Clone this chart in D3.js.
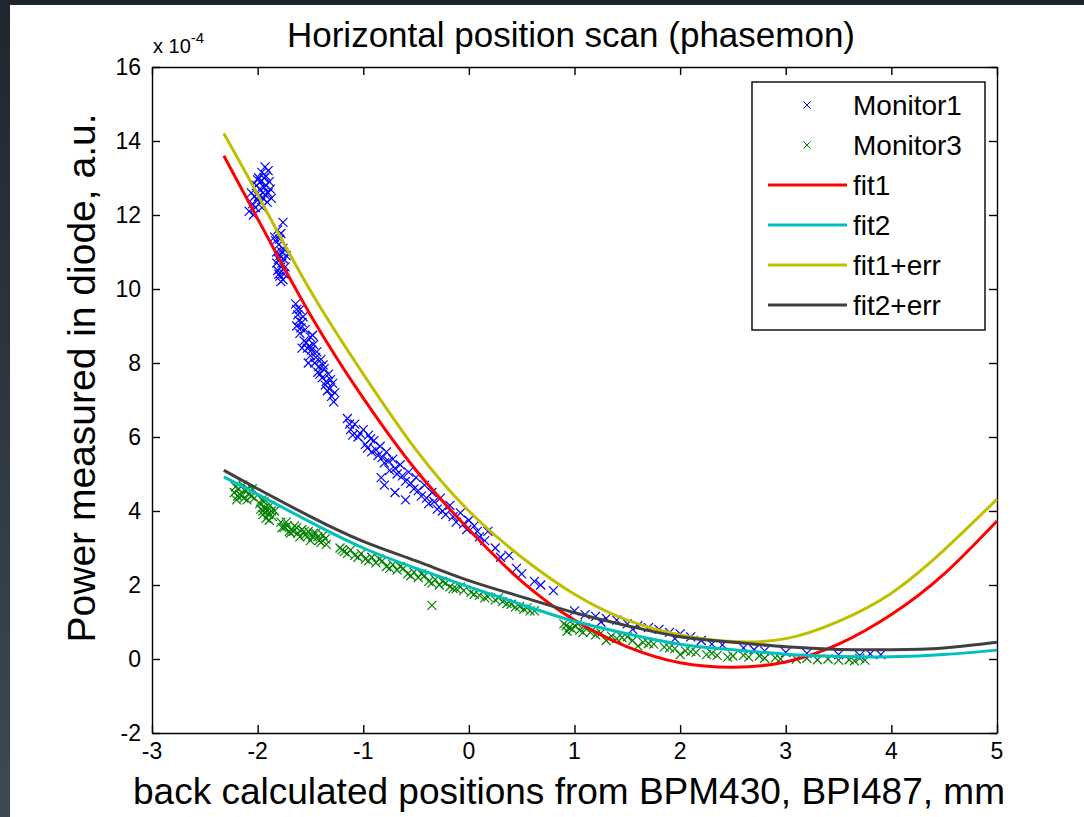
<!DOCTYPE html>
<html>
<head>
<meta charset="utf-8">
<script src="https://cdn.jsdelivr.net/npm/d3@7"></script>
<style>
  body { margin: 0; background: #232a33; }
  text { font-family: "Liberation Sans", Arial, sans-serif; fill: #000; }
</style>
</head>
<body>
<svg width="1084" height="817"></svg>
<script>
// values are in units of 1e-4
const xTicks = [-3, -2, -1, 0, 1, 2, 3, 4, 5]
const yTicks = [-2, 0, 2, 4, 6, 8, 10, 12, 14, 16]

const monitor1 = [
  [-2.08,12.1],[-2.05,12.3],[-2.03,12.5],[-2.0,12.4],[-1.98,12.7],[-1.97,12.9],[-1.95,12.6],[-1.94,13.0],
  [-1.93,13.3],[-1.92,12.8],[-1.9,12.6],[-1.89,12.9],[-1.88,12.7],[-1.96,12.2],[-2.01,12.8],[-1.99,13.0],
  [-1.91,12.35],[-1.87,12.45],[-2.06,12.6],[-1.95,12.45],
  [-2.04,12.0],[-2.02,12.2],[-1.99,12.5],[-1.97,12.35],[-1.94,12.75],[-1.92,13.05],[-1.9,13.2],[-1.96,13.15],
  [-2.0,12.95],[-1.93,12.55],
  [-1.76,11.8],[-1.78,11.5],[-1.8,11.2],[-1.82,11.0],[-1.79,10.9],[-1.77,10.7],[-1.81,10.5],[-1.75,10.4],
  [-1.78,10.2],[-1.74,10.6],[-1.83,11.3],[-1.8,10.8],[-1.76,11.1],[-1.73,10.9],[-1.79,10.35],[-1.84,11.4],
  [-1.81,11.6],[-1.79,11.35],[-1.77,11.0],[-1.78,10.6],[-1.8,10.4],[-1.76,10.25],[-1.75,10.8],[-1.82,10.7],
  [-1.64,9.6],[-1.62,9.3],[-1.6,9.45],[-1.63,9.0],[-1.58,9.1],[-1.6,8.8],[-1.56,8.6],[-1.55,8.9],
  [-1.53,8.4],[-1.5,8.7],[-1.5,8.2],[-1.47,8.5],[-1.46,8.0],[-1.44,8.3],[-1.42,7.9],[-1.4,8.1],
  [-1.39,7.6],[-1.37,7.85],[-1.35,7.5],[-1.33,7.7],[-1.32,7.3],[-1.3,7.1],[-1.28,6.95],[-1.29,7.45],
  [-1.41,7.7],[-1.52,8.0],
  [-1.63,9.45],[-1.61,9.15],[-1.59,8.95],[-1.57,9.25],[-1.54,8.55],[-1.51,8.45],[-1.49,8.35],[-1.45,8.15],
  [-1.43,7.75],[-1.38,7.95],[-1.36,7.4],[-1.34,7.25],[-1.31,7.55],[-1.27,7.2],[-1.48,8.75],[-1.58,8.4],
  [-1.15,6.5],[-1.12,6.2],[-1.08,6.35],[-1.05,6.0],[-1.0,6.2],[-0.98,5.8],[-0.95,6.05],[-0.92,5.6],
  [-0.9,5.9],[-0.86,5.5],[-0.84,5.75],[-0.8,5.3],[-0.78,5.6],[-0.75,5.1],[-0.72,5.4],[-0.68,5.0],
  [-0.65,5.25],[-0.6,4.8],[-0.57,5.05],[-0.52,4.6],[-0.5,4.9],[-0.45,4.4],[-0.42,4.7],[-0.38,4.2],
  [-0.35,4.5],[-0.3,4.05],[-0.27,4.35],[-0.22,3.9],[-0.18,4.15],[-0.12,3.7],[-0.08,3.95],[-0.02,3.5],
  [0.05,3.6],[0.1,3.3],[0.18,3.45],[0.25,3.0],[0.3,2.75],[0.38,2.8],[0.45,2.45],[0.5,2.3],
  [0.62,2.1],[0.68,2.0],[0.8,1.85],[-0.83,4.9],[-0.8,4.7],[-0.7,4.5],[-0.6,4.3],
  [-1.13,6.35],[-1.1,6.05],[-1.03,6.1],[-0.96,5.7],[-0.93,5.95],[-0.88,5.65],[-0.82,5.45],[-0.76,5.35],
  [-0.7,5.15],[-0.63,4.95],[-0.55,4.75],[-0.48,4.55],[-0.4,4.35],[-0.33,4.25],[-0.25,4.0],[-0.15,3.85],
  [-0.05,3.65],[0.0,3.75],[0.08,3.45],[0.15,3.2],
  [1.0,1.3],[1.1,1.2],[1.2,1.15],[1.3,1.1],[1.4,1.05],[1.5,0.95],[1.6,0.9],[1.7,0.85],
  [1.8,0.8],[1.9,0.72],[2.0,0.68],[2.1,0.6],[2.2,0.5],[2.4,0.38],[2.6,0.3],[2.7,0.25],
  [2.8,0.22],[3.0,0.18],[3.2,0.15],[3.5,0.12],[3.7,0.1],[3.8,0.14],[3.9,0.12],[1.25,1.0],
  [1.55,0.8],[1.95,0.55],[2.3,0.4]
]

const monitor3 = [
  [-2.22,4.5],[-2.18,4.6],[-2.15,4.4],[-2.12,4.55],[-2.1,4.3],[-2.08,4.45],[-2.05,4.6],[-2.03,4.35],
  [-2.2,4.3],[-2.14,4.7],[-2.21,4.65],[-2.17,4.45],[-2.13,4.35],[-2.09,4.6],[-2.06,4.4],[-2.19,4.4],
  [-1.98,4.2],[-1.95,4.0],[-1.93,4.1],[-1.9,3.9],[-1.88,4.15],[-1.86,3.85],[-1.84,4.0],[-1.92,3.8],[-1.96,4.3],
  [-1.97,4.05],[-1.94,4.25],[-1.91,4.0],[-1.89,3.75],[-1.87,4.0],[-1.95,3.9],
  [-1.78,3.7],[-1.75,3.55],[-1.72,3.6],[-1.68,3.5],[-1.65,3.6],[-1.62,3.4],[-1.58,3.5],[-1.55,3.35],
  [-1.52,3.45],[-1.48,3.3],[-1.45,3.4],[-1.42,3.2],[-1.38,3.35],[-1.35,3.1],[-1.5,3.2],[-1.7,3.45],
  [-1.77,3.55],[-1.73,3.7],[-1.69,3.4],[-1.66,3.45],[-1.63,3.55],[-1.6,3.3],[-1.56,3.45],[-1.53,3.3],
  [-1.47,3.4],[-1.43,3.3],[-1.4,3.15],[-1.36,3.25],
  [-1.22,3.0],[-1.18,2.9],[-1.12,2.95],[-1.08,2.8],[-1.02,2.85],[-0.98,2.7],[-0.92,2.75],[-0.88,2.6],
  [-0.82,2.65],[-0.78,2.5],[-0.72,2.55],[-0.68,2.4],[-0.62,2.45],[-0.58,2.3],[-0.52,2.35],[-0.48,2.2],
  [-0.42,2.25],[-0.38,2.1],[-0.32,2.15],[-0.28,2.0],[-0.22,2.05],[-0.18,1.95],[-0.12,1.9],[-0.05,1.85],
  [0.02,1.8],[0.1,1.72],[0.18,1.68],[0.25,1.6],[0.32,1.55],[0.4,1.48],[0.48,1.42],[0.55,1.38],
  [0.62,1.3],[-0.35,1.45],
  [-1.2,2.95],[-1.15,2.85],[-1.05,2.75],[-0.95,2.65],[-0.85,2.7],[-0.75,2.45],[-0.65,2.5],[-0.55,2.25],
  [-0.45,2.3],[-0.35,2.05],[-0.25,2.1],[-0.15,1.9],[-0.08,1.95],[0.05,1.75],[0.15,1.65],[0.28,1.65],
  [0.36,1.5],[0.44,1.4],[0.52,1.35],[0.58,1.3],
  [0.9,0.95],[0.95,0.85],[1.0,0.9],[1.05,0.78],[1.1,0.85],[0.93,0.75],[1.15,0.72],[1.25,0.7],
  [1.35,0.62],[1.45,0.58],[1.55,0.5],[1.65,0.45],[1.75,0.4],[1.85,0.32],[1.95,0.28],[2.05,0.22],
  [2.15,0.18],[2.25,0.12],[2.35,0.1],[2.5,0.08],[2.65,0.05],[2.8,0.02],[2.95,0.0],[3.1,0.0],
  [3.3,-0.02],[3.5,-0.03],[3.65,-0.05],[3.75,-0.03],[1.3,0.5],[1.6,0.35],[2.0,0.12],
  [0.92,0.9],[0.98,0.8],[1.03,0.95],[1.08,0.72],[1.2,0.65],[1.4,0.55],[1.5,0.6],[1.7,0.42],
  [1.9,0.3],[2.1,0.2],[2.3,0.15],[2.45,0.05],[2.6,0.1],[2.75,0.08],[2.9,0.03],[3.2,0.02],
  [3.4,0.0],[3.6,-0.02],[3.7,0.02]
]

const fitX = [-2.32, -2, -1.5, -1, -0.5, 0, 0.5, 1, 1.5, 2, 2.5, 3, 3.5, 4, 4.5, 5]
const fit1 = [13.6, 11.9, 9.3, 7.05, 5.1, 3.5, 2.1, 1.05, 0.33, -0.1, -0.22, -0.08, 0.4, 1.2, 2.3, 3.73]
const fit2 = [4.92, 4.45, 3.7, 3.0, 2.45, 1.95, 1.47, 1.02, 0.68, 0.4, 0.25, 0.13, 0.07, 0.06, 0.12, 0.24]
const fit1err = [14.2, 12.55, 9.95, 7.7, 5.65, 4.0, 2.75, 1.75, 1.05, 0.65, 0.47, 0.55, 1.02, 1.78, 2.95, 4.32]
const fit2err = [5.1, 4.6, 3.85, 3.18, 2.65, 2.12, 1.68, 1.25, 0.9, 0.6, 0.45, 0.33, 0.26, 0.25, 0.3, 0.45]

const lines = [
  { name: "fit1", values: fit1, color: "#ff0000" },
  { name: "fit2", values: fit2, color: "#00bfbf" },
  { name: "fit1+err", values: fit1err, color: "#bfbf00" },
  { name: "fit2+err", values: fit2err, color: "#404040" }
]

const svg = d3.select("svg")

// dark frame with a white page
const grad = svg.append("defs").append("linearGradient")
  .attr("id", "frame").attr("x1", 0).attr("y1", 0).attr("x2", 0).attr("y2", 1)
grad.append("stop").attr("offset", "0%").attr("stop-color", "#1f262e")
grad.append("stop").attr("offset", "100%").attr("stop-color", "#3e4955")
svg.append("rect").attr("width", 1084).attr("height", 817).attr("fill", "url(#frame)")
svg.append("rect").attr("x", 10).attr("y", 5).attr("width", 1074).attr("height", 812).attr("fill", "#fff")

const plotL = 152, plotR = 997, plotT = 67, plotB = 733

const x = d3.scaleLinear().domain([-3, 5]).range([plotL, plotR])
const y = d3.scaleLinear().domain([-2, 16]).range([plotB, plotT])

// axes with inward ticks on all four sides
svg.append("g").attr("transform", `translate(0,${plotB})`)
  .call(d3.axisBottom(x).tickValues(xTicks).tickSizeInner(-8).tickSizeOuter(0).tickFormat(""))
svg.append("g").attr("transform", `translate(0,${plotT})`)
  .call(d3.axisTop(x).tickValues(xTicks).tickSizeInner(-8).tickSizeOuter(0).tickFormat(""))
svg.append("g").attr("transform", `translate(${plotL},0)`)
  .call(d3.axisLeft(y).tickValues(yTicks).tickSizeInner(-8).tickSizeOuter(0).tickFormat(""))
svg.append("g").attr("transform", `translate(${plotR},0)`)
  .call(d3.axisRight(y).tickValues(yTicks).tickSizeInner(-8).tickSizeOuter(0).tickFormat(""))
svg.selectAll(".domain, .tick line").attr("stroke", "#000").attr("stroke-width", 1.4)

svg.append("g").selectAll("text").data(xTicks).enter().append("text")
  .attr("x", d => x(d)).attr("y", plotB + 26)
  .attr("text-anchor", "middle").style("font-size", "23px")
  .text(d => d)
svg.append("g").selectAll("text").data(yTicks).enter().append("text")
  .attr("x", plotL - 11).attr("y", d => y(d) + 8)
  .attr("text-anchor", "end").style("font-size", "23px")
  .text(d => d)

// exponent
const expo = svg.append("text").attr("x", plotL + 1).attr("y", 53).style("font-size", "20px")
expo.append("tspan").text("x 10")
expo.append("tspan").attr("dy", -10).style("font-size", "15px").text("-4")

svg.append("text").attr("x", 571).attr("y", 47).attr("text-anchor", "middle")
  .style("font-size", "35px").text("Horizontal position scan (phasemon)")
svg.append("text").attr("x", 569).attr("y", 804).attr("text-anchor", "middle")
  .style("font-size", "37px").text("back calculated positions from BPM430, BPI487, mm")
svg.append("text").attr("transform", `translate(95,378) rotate(-90)`).attr("text-anchor", "middle")
  .style("font-size", "39px").text("Power measured in diode, a.u.")

// x markers
function cross(g, r) {
  g.append("line").attr("x1", -r).attr("y1", -r).attr("x2", r).attr("y2", r)
  g.append("line").attr("x1", -r).attr("y1", r).attr("x2", r).attr("y2", -r)
}

const scatter = [
  { name: "Monitor1", data: monitor1, color: "#0000ff" },
  { name: "Monitor3", data: monitor3, color: "#008000" }
]

scatter.forEach(s => {
  svg.append("g").attr("stroke", s.color).attr("stroke-width", 1.2)
    .selectAll("g").data(s.data).enter().append("g")
    .attr("transform", d => `translate(${x(d[0])},${y(d[1])})`)
    .each(function () { cross(d3.select(this), 4.5) })
})

const line = d3.line().x((d, i) => x(fitX[i])).y(d => y(d)).curve(d3.curveNatural)

lines.forEach(l => {
  svg.append("path").datum(l.values)
    .attr("d", line)
    .attr("fill", "none").attr("stroke", l.color).attr("stroke-width", 3)
})

// legend
const legend = svg.append("g")
legend.append("rect").attr("x", 752).attr("y", 82).attr("width", 233).attr("height", 248)
  .attr("fill", "#fff").attr("stroke", "#000").attr("stroke-width", 1.4)

const legendItems = scatter.map(s => ({ name: s.name, color: s.color, type: "marker" }))
  .concat(lines.map(l => ({ name: l.name, color: l.color, type: "line" })))

const row = legend.selectAll("g.item").data(legendItems).enter().append("g")
  .attr("transform", (d, i) => `translate(0,${105 + i * 40})`)
row.each(function (d) {
  const g = d3.select(this)
  if (d.type == "marker") {
    const m = g.append("g").attr("transform", "translate(807,0)").attr("stroke", d.color).attr("stroke-width", 1)
    cross(m, 3.5)
  } else {
    g.append("line").attr("x1", 768).attr("x2", 847).attr("stroke", d.color).attr("stroke-width", 3)
  }
})
row.append("text").attr("x", 853).attr("y", 10).style("font-size", "28px").text(d => d.name)
</script>
</body>
</html>
